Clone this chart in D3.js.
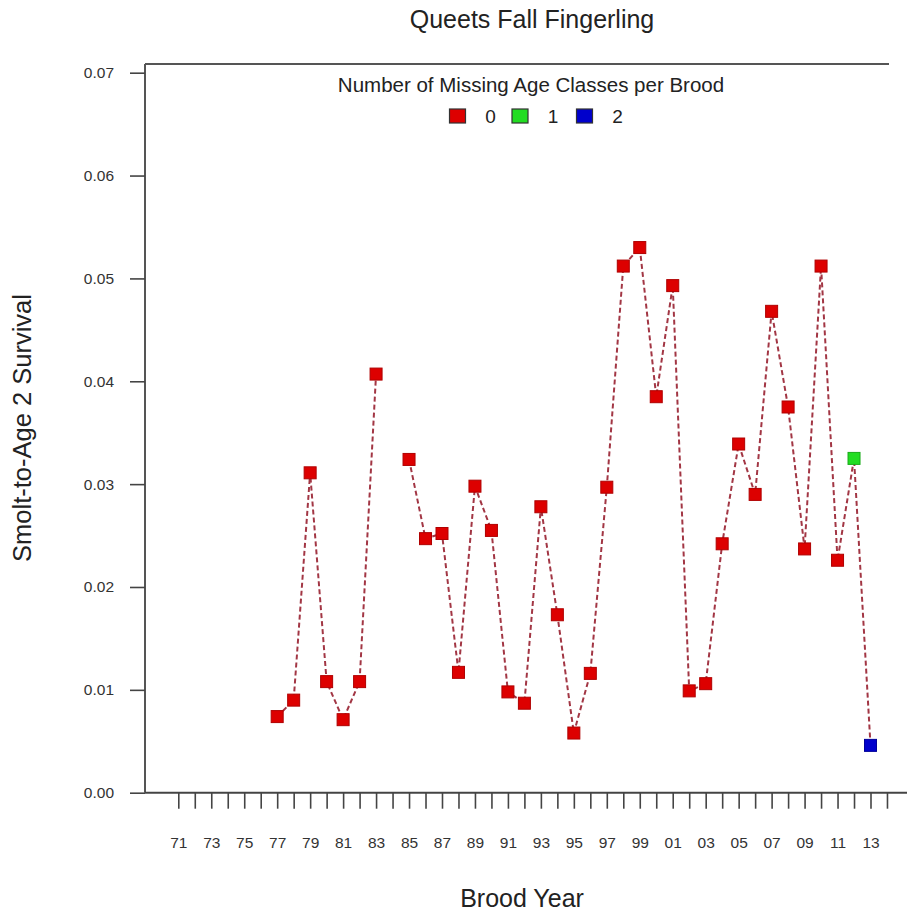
<!DOCTYPE html>
<html>
<head>
<meta charset="utf-8">
<script src="https://cdn.jsdelivr.net/npm/d3@7"></script>
<style>
  html, body { margin: 0; padding: 0; background: #fff; }
  svg { display: block; font-family: "Liberation Sans", Arial, sans-serif; }
</style>
</head>
<body>
<svg id="chart" width="907" height="915"></svg>
<script>
// ---- data ----
const broodYears = [1977,1978,1979,1980,1981,1982,1983,1984,1985,1986,1987,1988,1989,1990,1991,1992,1993,1994,1995,1996,1997,1998,1999,2000,2001,2002,2003,2004,2005,2006,2007,2008,2009,2010,2011,2012,2013];
const survival = [0.0074,0.0090,0.0311,0.0108,0.0071,0.0108,0.0407,null,0.0324,0.0247,0.0252,0.0117,0.0298,0.0255,0.0098,0.0087,0.0278,0.0173,0.0058,0.0116,0.0297,0.0512,0.0530,0.0385,0.0493,0.0099,0.0106,0.0242,0.0339,0.0290,0.0468,0.0375,0.0237,0.0512,0.0226,0.0325,0.0046];
const missingClasses = [0,0,0,0,0,0,0,null,0,0,0,0,0,0,0,0,0,0,0,0,0,0,0,0,0,0,0,0,0,0,0,0,0,0,0,1,2];
const legendLevels = [0,1,2];
const legendColors = ["#dd0000","#22dd22","#0000cc"];
const yTicks = [0,0.01,0.02,0.03,0.04,0.05,0.06,0.07];
const tickYears = d3.range(1971, 2015);
const labelYears = d3.range(1971, 2014, 2);

const titleText = "Queets Fall Fingerling";
const legendTitle = "Number of Missing Age Classes per Brood";
const xTitle = "Brood Year";
const yTitle = "Smolt-to-Age 2 Survival";

// ---- layout ----
const svg = d3.select("#chart");
const plotLeft = 145, plotTop = 64, plotBottom = 792.7;
const x = d3.scaleLinear().domain([1971, 2013]).range([178.3, 870.5]);
const y = d3.scaleLinear().domain([0, 0.07]).range([plotBottom, 72.7]);
const fill = d3.scaleOrdinal().domain(legendLevels).range(legendColors);
const stroke = d3.scaleOrdinal().domain(legendLevels).range(["#b00000","#1aaa1a","#000099"]);

// box lines
svg.append("line").attr("x1", plotLeft).attr("x2", 889).attr("y1", plotTop).attr("y2", plotTop)
  .attr("stroke", "#555").attr("stroke-width", 2);
svg.append("line").attr("x1", plotLeft).attr("x2", plotLeft).attr("y1", plotTop).attr("y2", plotBottom)
  .attr("stroke", "#555").attr("stroke-width", 2);
svg.append("line").attr("x1", plotLeft).attr("x2", 907).attr("y1", plotBottom).attr("y2", plotBottom)
  .attr("stroke", "#444").attr("stroke-width", 2);

// y axis
const yAxis = d3.axisLeft(y).tickValues(yTicks).tickFormat(d3.format(".2f")).tickSize(15).tickPadding(16);
const yg = svg.append("g").attr("transform", `translate(${plotLeft},0)`).call(yAxis);
yg.select(".domain").remove();
yg.selectAll(".tick line").attr("stroke", "#444").attr("stroke-width", 1.6);
yg.selectAll(".tick text").attr("fill", "#333").style("font-size", "15.5px").style("font-family", "Liberation Sans, Arial, sans-serif");

// x axis
const xAxis = d3.axisBottom(x).tickValues(tickYears).tickSize(16).tickFormat(() => "");
const xg = svg.append("g").attr("transform", `translate(0,${plotBottom})`).call(xAxis);
xg.select(".domain").remove();
xg.selectAll(".tick line").attr("stroke", "#444").attr("stroke-width", 1.6);
const xl = d3.axisBottom(x).tickValues(labelYears).tickSize(0).tickPadding(44)
  .tickFormat(d => String(d % 100).padStart(2, "0"));
const xlg = svg.append("g").attr("transform", `translate(0,${plotBottom})`).call(xl);
xlg.select(".domain").remove();
xlg.selectAll(".tick text").attr("fill", "#333").style("font-size", "15.5px").style("font-family", "Liberation Sans, Arial, sans-serif");

// titles
svg.append("text").attr("x", 532).attr("y", 28).attr("text-anchor", "middle")
  .attr("fill", "#222").style("font-size", "25px").text(titleText);
svg.append("text").attr("x", 522).attr("y", 907).attr("text-anchor", "middle")
  .attr("fill", "#222").style("font-size", "25px").text(xTitle);
svg.append("text").attr("transform", "translate(31,428) rotate(-90)").attr("text-anchor", "middle")
  .attr("fill", "#222").style("font-size", "25.5px").text(yTitle);

// legend
svg.append("text").attr("x", 531).attr("y", 92).attr("text-anchor", "middle")
  .attr("fill", "#222").style("font-size", "20.5px").text(legendTitle);
const legX = [457.5, 520, 584.5];
const lg = svg.append("g").selectAll("g").data(legendLevels).join("g")
  .attr("transform", (d, i) => `translate(${legX[i]},116)`);
lg.append("rect").attr("x", -8).attr("y", -7).attr("width", 16).attr("height", 14)
  .attr("fill", d => fill(d)).attr("stroke", "#333").attr("stroke-width", 1.2);
lg.append("text").attr("x", 33).attr("y", 7).attr("text-anchor", "middle")
  .attr("fill", "#222").style("font-size", "19px").text(d => d);

// data
const data = broodYears.map((yr, i) => ({ yr, v: survival[i], m: missingClasses[i] }));
const line = d3.line().defined(d => d.v !== null).x(d => x(d.yr)).y(d => y(d.v));
svg.append("path").datum(data).attr("d", line).attr("fill", "none")
  .attr("stroke", "#a23644").attr("stroke-width", 2).attr("stroke-dasharray", "5,3");

svg.append("g").selectAll("rect").data(data.filter(d => d.v !== null)).join("rect")
  .attr("x", d => x(d.yr) - 6).attr("y", d => y(d.v) - 6)
  .attr("width", 12).attr("height", 12)
  .attr("fill", d => fill(d.m)).attr("stroke", d => stroke(d.m)).attr("stroke-width", 1);
</script>
</body>
</html>
